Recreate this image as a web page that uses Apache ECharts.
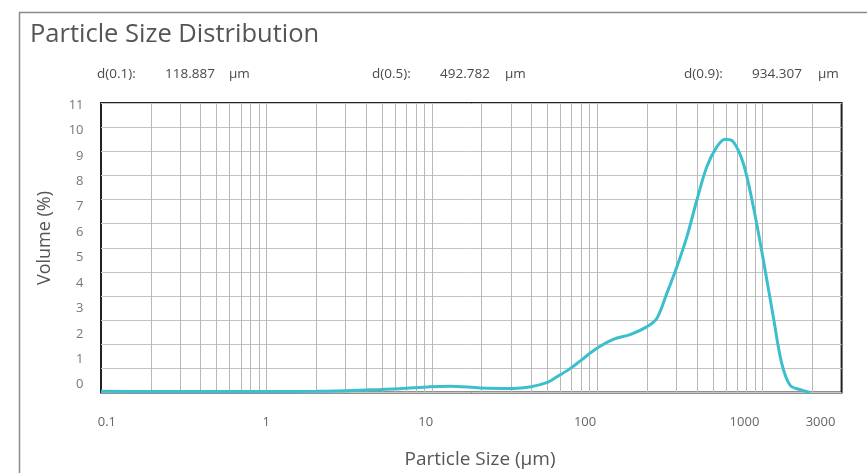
<!DOCTYPE html>
<html><head><meta charset="utf-8">
<script src="https://cdn.jsdelivr.net/npm/echarts@6/dist/echarts.min.js"></script>
<style>html,body{margin:0;padding:0;background:#fff}#c{width:867px;height:473px}</style>
</head><body><div id="c"></div>
<script>
// ---- data ----
const sizes   = [0.1, 0.2, 0.5, 1, 2, 4.2, 6.4, 9.8, 12.9, 19.6, 31, 39, 49.5, 57, 68.5, 79, 99, 125, 158, 199, 229, 263, 303, 348, 400, 459, 528, 593, 665, 764, 879, 1010, 1160, 1305, 1465, 1683, 1935];
const volumes = [0.05, 0.04, 0.04, 0.04, 0.05, 0.11, 0.16, 0.24, 0.26, 0.19, 0.17, 0.23, 0.41, 0.65, 0.99, 1.31, 1.82, 2.20, 2.40, 2.72, 3.07, 4.10, 5.21, 6.45, 7.97, 9.35, 10.18, 10.50, 10.39, 9.49, 7.69, 5.48, 3.13, 1.20, 0.30, 0.12, 0.0];
const xGridValues = [0.2,0.3,0.4,0.5,0.6,0.7,0.8,0.9,1,2,3,4,5,6,7,8,9,10,20,30,40,50,60,70,80,90,100,200,300,400,500,600,700,800,900,1000,2000];
const xTickLabels = [0.1, 1, 10, 100, 1000, 3000];
const yTickLabels = [0,1,2,3,4,5,6,7,8,9,10,11];
const dNames  = ['d(0.1):', 'd(0.5):', 'd(0.9):'];
const dValues = ['118.887', '492.782', '934.307'];
const dUnit = 'µm';
const titleText = 'Particle Size Distribution';
const xName = 'Particle Size (µm)';
const yName = 'Volume (%)';

const chart = echarts.init(document.getElementById('c'), null, {renderer: 'canvas'});
const FONT = '"Open Sans", "DejaVu Sans", sans-serif';
const dX = [[97,165,229],[372,440,505],[684,752,818]];
const graphics = [
  {type:'rect', left:17, top:10, shape:{width:900, height:500}, style:{fill:null, stroke:'#8a8a8a', lineWidth:1.5}, silent:true},
  {type:'text', x:30, y:35, style:{text:titleText, fill:'#555', font:'25.5px ' + FONT, verticalAlign:'middle'}},
  {type:'text', x:45, y:238, rotation:Math.PI/2, style:{text:yName, fill:'#555', font:'18px ' + FONT, align:'center', verticalAlign:'middle'}},
  {type:'text', x:480, y:460, style:{text:xName, fill:'#555', font:'19px ' + FONT, align:'center', verticalAlign:'middle'}}
];
dNames.forEach((n, i) => {
  [n, dValues[i], dUnit].forEach((t, j) => {
    graphics.push({type:'text', x:dX[i][j], y:74, style:{text:t, fill:'#4a4a4a', font:'13.5px ' + FONT, verticalAlign:'middle'}});
  });
});

chart.setOption({
  backgroundColor:'#fff',
  animation:false,
  graphic: graphics,
  grid:{left:101, right:25.4, top:103, bottom:80.5, show:true, borderColor:'#222', borderWidth:2, backgroundColor:'transparent'},
  xAxis:[
    {type:'log', logBase:10, min:0.1, max:3000, position:'bottom',
     axisLine:{show:false}, axisLabel:{show:false},
     axisTick:{show:false, customValues:xGridValues},
     splitLine:{show:true, lineStyle:{color:'#b8b8b8', width:1}}},
    {type:'log', logBase:10, min:0.0919, max:4069, position:'bottom',
     axisLine:{show:false}, axisTick:{show:false}, splitLine:{show:false},
     axisLabel:{show:true, customValues:xTickLabels, margin:23, color:'#666', fontSize:13, fontFamily:FONT,
       formatter: v => String(+Number(v).toPrecision(6))}}
  ],
  yAxis:[
    {type:'value', min:0, max:12, interval:1, position:'left',
     axisLine:{show:false}, axisTick:{show:false}, axisLabel:{show:false},
     splitLine:{show:true, lineStyle:{color:'#c4c4c4', width:1}}},
    {type:'value', min:-0.307, max:11.079, position:'left',
     axisLine:{show:false}, axisTick:{show:false}, splitLine:{show:false},
     axisLabel:{show:true, customValues:yTickLabels, margin:17.5, color:'#777', fontSize:13, fontFamily:FONT}}
  ],
  series:[{
    type:'line', xAxisIndex:0, yAxisIndex:0,
    data: sizes.map((s, i) => [s, volumes[i]]),
    smooth:0.35, showSymbol:false, symbol:'none',
    lineStyle:{color:'#3cbfcc', width:3}, z:5
  }]
});
</script></body></html>
